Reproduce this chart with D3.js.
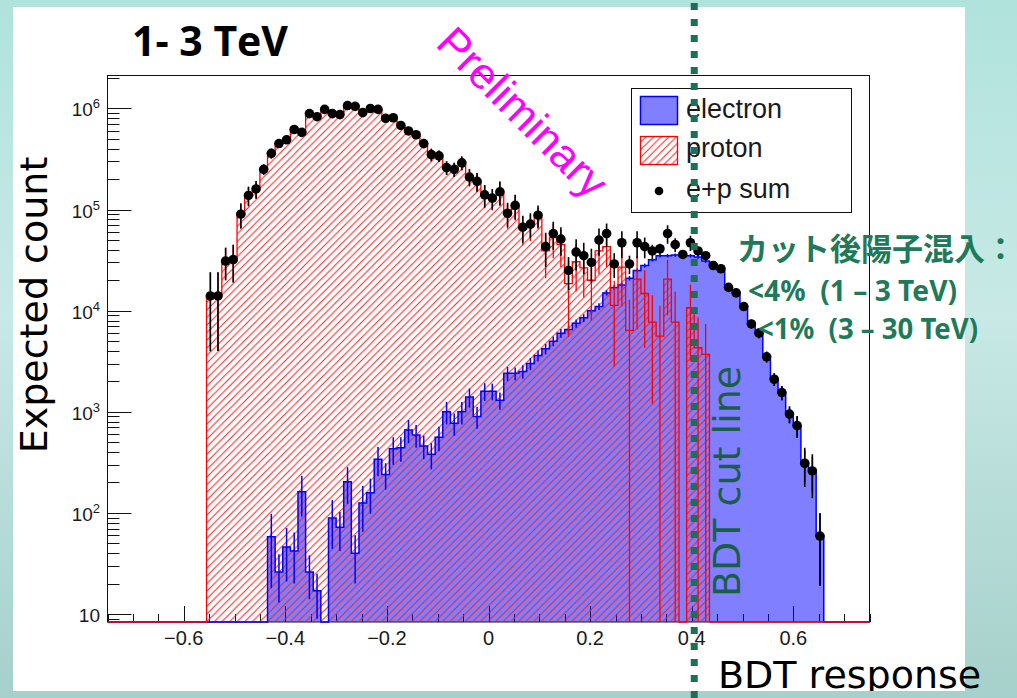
<!DOCTYPE html>
<html>
<head>
<meta charset="utf-8">
<script src="https://cdn.jsdelivr.net/npm/d3@7"></script>
<style>
  html, body { margin: 0; padding: 0; background: #fff; }
  svg { display: block; }
</style>
</head>
<body>
<div id="chart"></div>
<script>
const width = 1017;
const height = 698;
const frame = { left: 107.5, right: 869.5, top: 75.5, bottom: 622 };

// binning of the BDT response histograms
const xMin = -0.75;
const xMax = 0.75;
const nBins = 100;

// proton (red hatched), bins 13..78
const protonFirstBin = 13;
const protonCounts = [
  1.39e4, 1.4e4, 3.1e4, 3.2e4, 9.0e4, 1.38e5, 1.6e5, 2.5e5, 3.6e5, 4.5e5,
  4.9e5, 6.2e5, 5.8e5, 8.9e5, 8.3e5, 9.8e5, 8.9e5, 8.7e5, 1.07e6, 1.05e6,
  9.1e5, 1.0e6, 9.8e5, 8.0e5, 8.1e5, 6.8e5, 6.0e5, 5.5e5, 4.5e5, 3.5e5,
  3.4e5, 2.6e5, 2.5e5, 2.9e5, 2.1e5, 1.9e5, 1.38e5, 1.28e5, 1.49e5, 8.96e4,
  1.08e5, 6.45e4, 6.9e4, 8.4e4, 3.9e4, 5.3e4, 4.5e4, 1.85e4, 3.05e4, 2.65e4,
  2.0e4, 3.9e4, 4.3e4, 1.13e4, 2.7e4, 6.4e3, 2.05e4, 1.48e4, 7.7e3, 5.6e3,
  2.05e4, 7.7e3, 0, 1.07e4, 4.3e3, 3.7e3
];
const protonErrors = [
  1.0e4, 1.0e4, 1.1e4, 1.3e4, 2.5e4, 3.0e4, 3.2e4, 3.0e4, 4e4, 4e4,
  4.5e4, 5e4, 5e4, 6e4, 6e4, 7e4, 6e4, 6e4, 7e4, 7e4,
  6e4, 7e4, 7e4, 6e4, 6e4, 5e4, 5e4, 5e4, 4.5e4, 5e4,
  4.5e4, 4e4, 4e4, 4.5e4, 4e4, 4e4, 3.5e4, 3e4, 4e4, 2.5e4,
  3e4, 2e4, 2e4, 2e4, 1.8e4, 2e4, 1.8e4, 1.3e4, 1.5e4, 1.3e4,
  1.2e4, 1.6e4, 1.6e4, 8.5e3, 1.6e4, 6.4e3, 1.4e4, 1.05e4, 6.5e3, 5.6e3,
  1.15e4, 7.7e3, 0, 7.5e3, 4.3e3, 3.7e3
];

// electron (blue filled), bins 21..93
const electronFirstBin = 21;
const electronCounts = [
  58, 26, 46, 42, 162, 26, 17, 0, 89, 72,
  203, 40, 125, 158, 340, 240, 430, 440, 660, 590,
  460, 380, 560, 1000, 770, 1000, 1400, 900, 1600, 1600,
  1300, 2400, 2400, 2500, 3000, 3600, 4200, 5000, 6000, 6500,
  7500, 8500, 10000, 11000, 15000, 17000, 18000, 21000, 25000, 28000,
  32000, 35000, 35000, 35500, 35000, 35000, 34000, 31000, 28000, 26000,
  17000, 15000, 11000, 7400, 6000, 3500, 2100, 1550, 950, 730,
  310, 260, 59
];
const electronErrors = [
  40, 13, 25, 22, 70, 12, 8, 0, 45, 30,
  80, 20, 60, 60, 110, 70, 130, 120, 170, 150,
  120, 110, 150, 250, 190, 250, 300, 220, 320, 300,
  250, 380, 350, 380, 420, 450, 500, 550, 600, 650,
  700, 750, 800, 850, 900, 950, 1000, 1100, 1200, 1300,
  1300, 1400, 1400, 1400, 1400, 1400, 1300, 1300, 1200, 1100,
  900, 850, 700, 550, 500, 380, 300, 250, 180, 170,
  110, 100, 40
];

// e+p sum (black points), bins 13..93
const sumFirstBin = 13;
const sumCounts = [
  1.4e4, 1.4e4, 3.1e4, 3.2e4, 9.0e4, 1.38e5, 1.6e5, 2.5e5, 3.6e5, 4.5e5,
  4.9e5, 6.2e5, 5.8e5, 8.9e5, 8.3e5, 9.8e5, 8.9e5, 8.7e5, 1.07e6, 1.05e6,
  9.1e5, 1.0e6, 9.8e5, 8.0e5, 8.1e5, 6.8e5, 6.0e5, 5.5e5, 4.5e5, 3.5e5,
  3.4e5, 2.6e5, 2.5e5, 2.9e5, 2.1e5, 1.9e5, 1.4e5, 1.3e5, 1.5e5, 9.2e4,
  1.1e5, 6.7e4, 7.2e4, 8.8e4, 4.3e4, 5.8e4, 5.1e4, 2.5e4, 3.8e4, 3.5e4,
  3.0e4, 5.0e4, 5.8e4, 2.9e4, 4.7e4, 2.9e4, 4.7e4, 4.3e4, 3.9e4, 4.1e4,
  5.8e4, 4.5e4, 3.6e4, 4.7e4, 3.9e4, 3.5e4, 2.8e4, 2.6e4, 1.7e4, 1.5e4,
  1.1e4, 7.4e3, 6.0e3, 3.5e3, 2.1e3, 1.55e3, 950, 730, 310, 260,
  59
];
const sumErrors = [
  1.0e4, 1.0e4, 1.1e4, 1.3e4, 2.5e4, 3.0e4, 3.2e4, 3.0e4, 4e4, 4e4,
  4.5e4, 5e4, 5e4, 6e4, 6e4, 7e4, 6e4, 6e4, 7e4, 7e4,
  6e4, 7e4, 7e4, 6e4, 6e4, 5e4, 5e4, 5e4, 4.5e4, 5e4,
  4.5e4, 4e4, 4e4, 4.5e4, 4e4, 4e4, 3.5e4, 3e4, 4e4, 2.5e4,
  3e4, 2e4, 2e4, 2.2e4, 1.6e4, 1.8e4, 1.6e4, 9e3, 1.3e4, 1.2e4,
  1.1e4, 1.5e4, 1.5e4, 8e3, 1.4e4, 6e3, 1.4e4, 1e4, 6e3, 5e3,
  1.2e4, 7e3, 3e3, 8e3, 4e3, 3.5e3, 2e3, 2e3, 1.5e3, 1.3e3,
  1e3, 800, 700, 450, 300, 250, 180, 180, 130, 120,
  40
];

// axes
const yDomain = [8.34, 2.12e6];
const xTickValues = [-0.6, -0.4, -0.2, 0, 0.2, 0.4, 0.6];
const xTickLabels = ["\u22120.6", "\u22120.4", "\u22120.2", "0", "0.2", "0.4", "0.6"];
const yTickValues = [10, 1e2, 1e3, 1e4, 1e5, 1e6];
const yTickExponents = ["", "2", "3", "4", "5", "6"];
const legendLabels = ["electron", "proton", "e+p sum"];
const cutValue = 0.405;

const drawChart = () => {
  const svg = d3.select("#chart")
    .append("svg")
    .attr("width", width)
    .attr("height", height)
    .attr("viewBox", `0 0 ${width} ${height}`);

  const defs = svg.append("defs");

  const bg = defs.append("linearGradient")
    .attr("id", "bg")
    .attr("gradientUnits", "userSpaceOnUse")
    .attr("x1", 0).attr("y1", 0).attr("x2", 0).attr("y2", height);
  bg.append("stop").attr("offset", 0).attr("stop-color", "#b0e3dc");
  bg.append("stop").attr("offset", 0.45).attr("stop-color", "#c8e9e6");
  bg.append("stop").attr("offset", 1).attr("stop-color", "#a6d0cb");

  const hatch = defs.append("pattern")
    .attr("id", "hatch")
    .attr("patternUnits", "userSpaceOnUse")
    .attr("width", 7.6)
    .attr("height", 7.6);
  hatch.append("path")
    .attr("d", "M-1,1 L1,-1 M0,7.6 L7.6,0 M6.6,8.6 L8.6,6.6")
    .attr("stroke", "#ff1a1a")
    .attr("stroke-width", 1);

  defs.append("clipPath")
    .attr("id", "plotClip")
    .append("rect")
    .attr("x", frame.left)
    .attr("y", frame.top)
    .attr("width", frame.right - frame.left)
    .attr("height", frame.bottom - frame.top + 1);

  // 1. slide background + white panel
  svg.append("rect")
    .attr("width", width).attr("height", height)
    .attr("fill", "url(#bg)");
  svg.append("rect")
    .attr("x", 13).attr("y", 7)
    .attr("width", 952).attr("height", 684)
    .attr("fill", "#fff");

  // 2. scales
  const xScale = d3.scaleLinear()
    .domain([xMin, xMax])
    .range([frame.left, frame.right]);

  const yScale = d3.scaleLog()
    .domain(yDomain)
    .range([frame.bottom, frame.top]);

  const binWidth = (xMax - xMin) / nBins;
  const edge = k => xMin + k * binWidth;
  const center = k => xMin + (k + 0.5) * binWidth;

  const expand = (first, arr) => {
    const full = new Array(nBins).fill(0);
    arr.forEach((v, i) => { full[first + i] = v; });
    return full;
  };

  const proton = expand(protonFirstBin, protonCounts);
  const electron = expand(electronFirstBin, electronCounts);

  // 3. axes (ticks inside frame, ROOT style)
  const axes = svg.append("g");

  axes.append("rect")
    .attr("x", frame.left).attr("y", frame.top)
    .attr("width", frame.right - frame.left)
    .attr("height", frame.bottom - frame.top)
    .attr("fill", "none")
    .attr("stroke", "#111")
    .attr("stroke-width", 1);

  const yMinor = yScale.ticks().filter(v => !yTickValues.includes(v));
  axes.selectAll(".yminor")
    .data(yMinor)
    .join("line")
    .attr("x1", frame.left).attr("x2", frame.left + 12)
    .attr("y1", d => Math.round(yScale(d)) + 0.5)
    .attr("y2", d => Math.round(yScale(d)) + 0.5)
    .attr("stroke", "#111");

  axes.selectAll(".ymajor")
    .data(yTickValues)
    .join("line")
    .attr("x1", frame.left).attr("x2", frame.left + 24)
    .attr("y1", d => Math.round(yScale(d)) + 0.5)
    .attr("y2", d => Math.round(yScale(d)) + 0.5)
    .attr("stroke", "#111");

  const yLabels = axes.selectAll(".ylabel")
    .data(yTickValues)
    .join("text")
    .attr("x", 100)
    .attr("y", d => yScale(d) + 8)
    .attr("text-anchor", "end")
    .attr("font-family", "Liberation Sans, Arial, sans-serif")
    .attr("font-size", "19px")
    .attr("fill", "#1a1a1a");
  yLabels.append("tspan").text("10");
  yLabels.append("tspan")
    .attr("dy", -8)
    .attr("font-size", "13px")
    .text((d, i) => yTickExponents[i]);

  const xMinor = d3.range(-15, 16).map(i => i * 0.05)
    .filter(v => !xTickValues.some(t => Math.abs(t - v) < 1e-9));
  axes.selectAll(".xminor")
    .data(xMinor)
    .join("line")
    .attr("x1", d => Math.round(xScale(d)) + 0.5)
    .attr("x2", d => Math.round(xScale(d)) + 0.5)
    .attr("y1", frame.bottom).attr("y2", frame.bottom - 8)
    .attr("stroke", "#111");

  axes.selectAll(".xmajor")
    .data(xTickValues)
    .join("line")
    .attr("x1", d => Math.round(xScale(d)) + 0.5)
    .attr("x2", d => Math.round(xScale(d)) + 0.5)
    .attr("y1", frame.bottom).attr("y2", frame.bottom - 16)
    .attr("stroke", "#111");

  axes.selectAll(".xlabel")
    .data(xTickValues)
    .join("text")
    .attr("x", d => xScale(d))
    .attr("y", 645)
    .attr("text-anchor", "middle")
    .attr("font-family", "Liberation Sans, Arial, sans-serif")
    .attr("font-size", "20px")
    .attr("fill", "#1a1a1a")
    .text((d, i) => xTickLabels[i]);

  // 4. histograms
  const plot = svg.append("g").attr("clip-path", "url(#plotClip)");

  const stepPoints = vals => vals.flatMap((v, k) => {
    const y = v > 0 ? yScale(v) : frame.bottom;
    return [{ x: xScale(edge(k)), y }, { x: xScale(edge(k + 1)), y }];
  });

  const area = d3.area().x(d => d.x).y0(frame.bottom).y1(d => d.y);
  const line = d3.line().x(d => d.x).y(d => d.y);

  plot.append("path")
    .attr("d", area(stepPoints(electron)))
    .attr("fill", "rgba(0,0,255,0.5)");

  plot.append("path")
    .attr("d", area(stepPoints(proton)))
    .attr("fill", "url(#hatch)");

  plot.append("path")
    .attr("d", line(stepPoints(electron)))
    .attr("fill", "none")
    .attr("stroke", "#0000ff")
    .attr("stroke-width", 1.5);

  plot.append("path")
    .attr("d", line(stepPoints(proton)))
    .attr("fill", "none")
    .attr("stroke", "#ff0000")
    .attr("stroke-width", 1.3);

  // 5. error bars + points
  const errorData = (first, counts, errors) => counts
    .map((v, i) => ({ k: first + i, v, e: errors[i] }))
    .filter(d => d.v > 0);

  const drawErrors = (data, color, w) => {
    plot.append("g")
      .selectAll("line")
      .data(data.filter(d => d.e > 0))
      .join("line")
      .attr("x1", d => xScale(center(d.k)))
      .attr("x2", d => xScale(center(d.k)))
      .attr("y1", d => yScale(d.v + d.e))
      .attr("y2", d => d.v - d.e > yDomain[0] ? yScale(d.v - d.e) : frame.bottom)
      .attr("stroke", color)
      .attr("stroke-width", w);
  };

  drawErrors(errorData(electronFirstBin, electronCounts, electronErrors), "#0000ff", 1.5);
  drawErrors(errorData(protonFirstBin, protonCounts, protonErrors), "#ff0000", 1.3);

  const sumData = errorData(sumFirstBin, sumCounts, sumErrors);
  drawErrors(sumData, "#000", 1.6);

  plot.append("g")
    .selectAll("circle")
    .data(sumData)
    .join("circle")
    .attr("cx", d => xScale(center(d.k)))
    .attr("cy", d => yScale(d.v))
    .attr("r", 4.8)
    .attr("fill", "#000");

  // Legend
  const legend = svg.append("g");
  legend.append("rect")
    .attr("x", 631.5).attr("y", 88.5)
    .attr("width", 220).attr("height", 124)
    .attr("fill", "#fff")
    .attr("stroke", "#111")
    .attr("stroke-width", 1);

  legend.append("rect")
    .attr("x", 640.5).attr("y", 96.5)
    .attr("width", 37).attr("height", 28)
    .attr("fill", "#8080ff")
    .attr("stroke", "#0000ff")
    .attr("stroke-width", 1.5);

  legend.append("rect")
    .attr("x", 640.5).attr("y", 136.5)
    .attr("width", 37).attr("height", 28)
    .attr("fill", "url(#hatch)")
    .attr("stroke", "#ff0000")
    .attr("stroke-width", 1.3);

  legend.append("circle")
    .attr("cx", 659).attr("cy", 191)
    .attr("r", 4.3)
    .attr("fill", "#000");

  legend.selectAll("text")
    .data(legendLabels)
    .join("text")
    .attr("x", 686)
    .attr("y", (d, i) => [118, 157, 198][i])
    .attr("font-family", "Liberation Sans, Arial, sans-serif")
    .attr("font-size", "27px")
    .attr("fill", "#1a1a1a")
    .text(d => d);

  // titles and annotations
  svg.append("text")
    .attr("x", 132).attr("y", 56)
    .attr("font-family", "Open Sans, sans-serif")
    .attr("font-weight", "bold")
    .attr("font-size", "41px")
    .attr("fill", "#000")
    .text("1- 3 TeV");

  svg.append("text")
    .attr("transform", "translate(47,305) rotate(-90)")
    .attr("text-anchor", "middle")
    .attr("font-family", "DejaVu Sans, sans-serif")
    .attr("font-size", "38px")
    .attr("fill", "#000")
    .text("Expected count");

  svg.append("text")
    .attr("transform", "translate(512,123) rotate(45)")
    .attr("text-anchor", "middle")
    .attr("font-family", "Liberation Sans, Arial, sans-serif")
    .attr("font-size", "44px")
    .attr("fill", "#ff00ff")
    .text("Preliminary");

  svg.append("text")
    .attr("transform", "translate(740,597) rotate(-90)")
    .attr("font-family", "DejaVu Sans, sans-serif")
    .attr("font-size", "38px")
    .attr("fill", "#1b5e48")
    .text("BDT cut line");

  svg.append("text")
    .attr("x", 718).attr("y", 688)
    .attr("font-family", "DejaVu Sans, sans-serif")
    .attr("font-size", "38px")
    .attr("fill", "#000")
    .text("BDT response");

  const note = svg.append("g")
    .attr("font-weight", "bold")
    .attr("fill", "#1f7a5a");

  note.append("text")
    .attr("x", 737).attr("y", 260)
    .attr("font-family", "Noto Sans CJK JP, sans-serif")
    .attr("font-size", "31px")
    .text("カット後陽子混入：");

  note.append("text")
    .attr("x", 748).attr("y", 301)
    .attr("font-family", "Noto Sans, sans-serif")
    .attr("font-size", "29px")
    .attr("textLength", 209)
    .attr("lengthAdjust", "spacingAndGlyphs")
    .style("white-space", "pre")
    .text("<4%  (1 \u2013 3 TeV)");

  note.append("text")
    .attr("x", 758).attr("y", 339)
    .attr("font-family", "Noto Sans, sans-serif")
    .attr("font-size", "29px")
    .attr("textLength", 220)
    .attr("lengthAdjust", "spacingAndGlyphs")
    .style("white-space", "pre")
    .text("<1%  (3 \u2013 30 TeV)");

  // bottom slide band over the axis title, then the cut line on top
  svg.append("rect")
    .attr("x", 0).attr("y", 691)
    .attr("width", width).attr("height", height - 691)
    .attr("fill", "url(#bg)");

  svg.append("line")
    .attr("x1", xScale(cutValue)).attr("x2", xScale(cutValue))
    .attr("y1", 3).attr("y2", height)
    .attr("stroke", "#1d6f57")
    .attr("stroke-width", 7)
    .attr("stroke-dasharray", "7,9");
};

drawChart();
</script>
</body>
</html>
